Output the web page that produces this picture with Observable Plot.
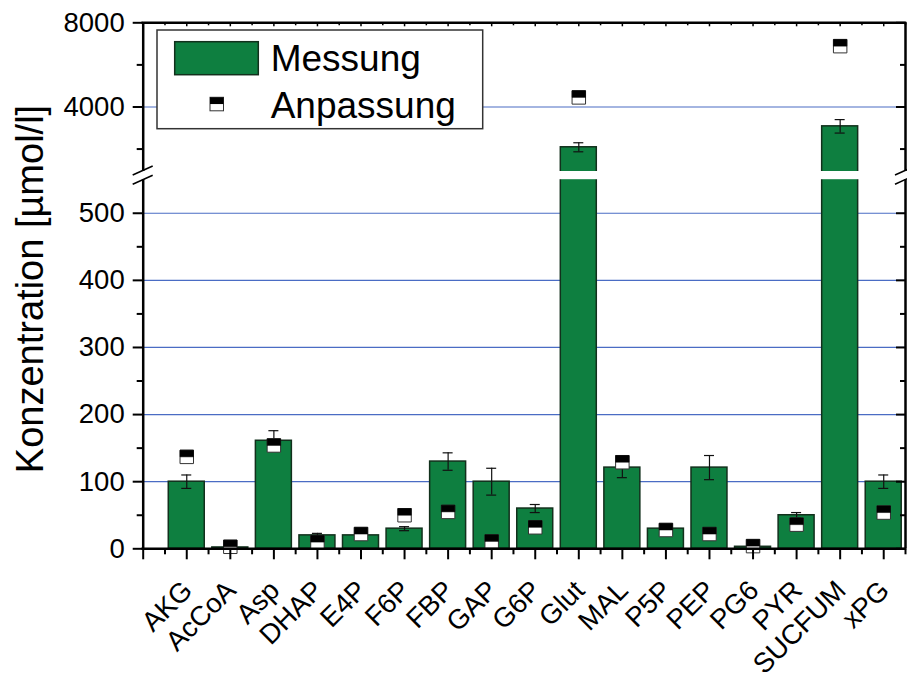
<!DOCTYPE html>
<html><head><meta charset="utf-8">
<script src="https://cdn.jsdelivr.net/npm/d3@7"></script>
<script src="https://cdn.jsdelivr.net/npm/@observablehq/plot@0.6"></script>
<style>
html,body{margin:0;padding:0;background:#fff;}
#chart{width:907px;height:682px;}
</style></head><body><div id="chart"></div>
<script>
// ---- data ----
const categories = ["AKG","AcCoA","Asp","DHAP","E4P","F6P","FBP","GAP","G6P","Glut","MAL","P5P","PEP","PG6","PYR","SUCFUM","xPG"];
const measured   = [100, 2, 161, 20, 20, 30, 130, 100, 60, 2085, 121, 30, 121, 3, 50, 3080, 100];
const errors     = [10, 0, 15, 3, 5, 3, 13, 20, 6, 215, 15, 3, 18, 0, 4, 320, 10];
const fitted     = [137, 3, 154, 10, 22, 50, 55, 11, 32, 4455, 129, 28, 22, 4, 36, 6890, 54];
const yMajorTicks = [0, 100, 200, 300, 400, 500, 4000, 8000];
const yMinorTicks = [50, 150, 250, 350, 450, 2000, 6000];
const gridTicks = [100, 200, 300, 400, 500, 4000];
const legendLabels = ["Messung", "Anpassung"];
const yLabel = "Konzentration [µmol/l]";
const breakLow = 550, breakHigh = 934;

// broken-axis transform: lower segment 0–550, upper segment 934–8000
const brk = d3.scaleLinear().domain([0, breakLow, breakHigh, 8000]).range([0, 369.1, 377.3, 526]);

const data = categories.map((c, k) => ({cat: c, i: k + 1, value: measured[k], err: errors[k], fit: fitted[k]}));
const errData = data.filter(d => d.err > 0);
const xMajor = d3.range(0, categories.length + 1);
const xMinor = d3.range(0.5, categories.length + 1, 1);
const xEnd = categories.length + 0.5;

const GREEN = "#0e7f40";
const FONT = "'Liberation Sans', Arial, Helvetica, sans-serif";
const halfSquare = {draw(ctx, size) { const w = Math.sqrt(size); ctx.rect(-w / 2, -w / 2, w, w / 2); }};

const plot = Plot.plot({
  width: 907, height: 682,
  marginLeft: 142.7, marginRight: 2, marginTop: 22.3, marginBottom: 133.7,
  style: {fontFamily: FONT, background: "white", overflow: "visible"},
  x: {domain: [0, xEnd], range: [142.7, 905], axis: null, label: null},
  y: {transform: brk, domain: [0, 526], range: [548.3, 22.3], label: null},
  marks: [
    Plot.ruleY(gridTicks, {stroke: "#4a6cc4", strokeWidth: 1.2}),
    Plot.rect(data, {x1: d => d.i - 0.413, x2: d => d.i + 0.413, y1: 0, y2: "value", fill: GREEN, stroke: "#12301c", strokeWidth: 1.5}),
    Plot.ruleX(errData, {x: "i", y1: d => d.value - d.err, y2: d => d.value + d.err, stroke: "#111", strokeWidth: 1.2}),
    Plot.ruleY(errData, {y: d => d.value + d.err, x1: "i", x2: "i", insetLeft: -5, insetRight: -5, stroke: "#111", strokeWidth: 1.2}),
    Plot.ruleY(errData, {y: d => d.value - d.err, x1: "i", x2: "i", insetLeft: -5, insetRight: -5, stroke: "#111", strokeWidth: 1.2}),
    Plot.dot(data, {x: "i", y: "fit", symbol: "square", r: 7.6, fill: "white", stroke: "#333", strokeWidth: 1}),
    Plot.dot(data, {x: "i", y: "fit", symbol: halfSquare, r: 7.6, fill: "black", stroke: "black", strokeWidth: 0.5}),
    // frame
    Plot.ruleX([0, xEnd], {strokeWidth: 2.5, stroke: "black"}),
    Plot.ruleY([0, 8000], {strokeWidth: 2.5, stroke: "black", strokeLinecap: "square"}),
    // left axis
    Plot.axisY(yMajorTicks, {tickSize: 10, tickPadding: 8.5, fontSize: 27.5, tickFormat: d => String(d), strokeWidth: 2, label: null, fill: "black"}),
    Plot.ruleY(yMinorTicks, {x1: 0, x2: 0, insetLeft: -6, strokeWidth: 2}),
    // right axis ticks (inward)
    Plot.ruleY(yMajorTicks, {x1: xEnd, x2: xEnd, insetLeft: -9, strokeWidth: 2}),
    Plot.ruleY(yMinorTicks, {x1: xEnd, x2: xEnd, insetLeft: -5, strokeWidth: 2}),
    // bottom axis ticks (outward)
    Plot.ruleX(xMajor, {y1: 0, y2: 0, insetBottom: -11, strokeWidth: 2}),
    Plot.ruleX(xMinor, {y1: 0, y2: 0, insetBottom: -6, strokeWidth: 2}),
    // top axis ticks (inward)
    Plot.ruleX(xMajor, {y1: 8000, y2: 8000, insetBottom: -4, strokeWidth: 1.5}),
    Plot.ruleX(xMinor, {y1: 8000, y2: 8000, insetBottom: -3, strokeWidth: 1.5}),
    // x tick labels
    Plot.text(categories, {x: (d, k) => k + 1, frameAnchor: "bottom", dx: 1, dy: 37, rotate: -45, textAnchor: "end", lineAnchor: "middle", fontSize: 27.5, fill: "black"}),
    // axis break band
    Plot.rect([0], {x1: 0, x2: xEnd, y1: breakLow, y2: breakHigh, fill: "white", insetLeft: -4, insetRight: -4})
  ]
});

document.getElementById("chart").appendChild(plot);

// decorations: break marks, y label, legend
const svg = d3.select(plot);
const sx = plot.scale("x"), sy = plot.scale("y");
const py = v => sy.apply(brk(v));
const yb1 = py(breakHigh), yb2 = py(breakLow);
[sx.apply(0), sx.apply(xEnd)].forEach(x0 => {
  [yb1 - 0.5, yb2 + 0.5].forEach(yc => {
    svg.append("line").attr("x1", x0 - 10).attr("y1", yc + 4.5).attr("x2", x0 + 10).attr("y2", yc - 4.5)
      .attr("stroke", "black").attr("stroke-width", 1.5);
  });
});

svg.append("text").attr("transform", "translate(43,289) rotate(-90)")
  .attr("text-anchor", "middle").attr("font-size", 38).attr("font-family", FONT).attr("fill", "black").text(yLabel);

const lg = svg.append("g").attr("font-family", FONT).attr("text-anchor", "start");
lg.append("rect").attr("x", 157).attr("y", 30).attr("width", 325.7).attr("height", 98.7)
  .attr("fill", "white").attr("stroke", "#333").attr("stroke-width", 1.5);
lg.append("rect").attr("x", 174.7).attr("y", 41.7).attr("width", 83.6).attr("height", 33)
  .attr("fill", GREEN).attr("stroke", "#12301c").attr("stroke-width", 1.5);
lg.append("rect").attr("x", 210).attr("y", 97.3).attr("width", 13.5).attr("height", 13.5)
  .attr("fill", "white").attr("stroke", "#333").attr("stroke-width", 1);
lg.append("rect").attr("x", 210).attr("y", 97.3).attr("width", 13.5).attr("height", 6.75)
  .attr("fill", "black");
lg.append("text").attr("x", 270.7).attr("y", 71).attr("font-size", 37).attr("fill", "black").text(legendLabels[0]);
lg.append("text").attr("x", 270.7).attr("y", 118.3).attr("font-size", 37).attr("fill", "black").text(legendLabels[1]);
</script>
</body></html>
